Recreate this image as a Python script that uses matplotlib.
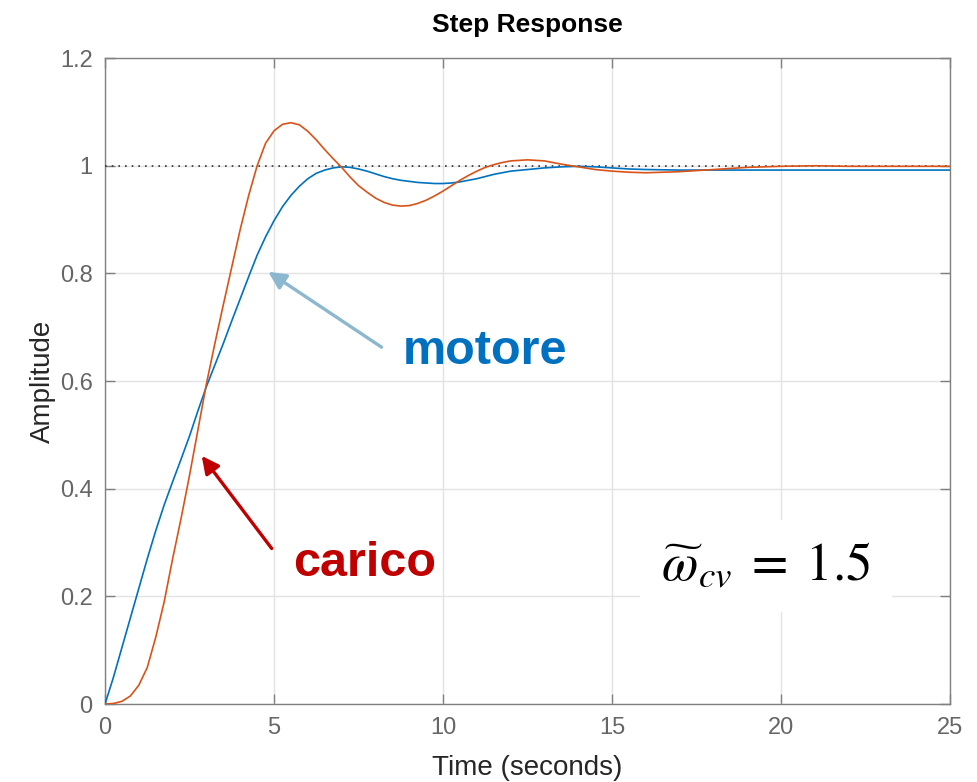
import numpy as np
import matplotlib
matplotlib.use('Agg')
import matplotlib.pyplot as plt

# Risposta al gradino: motore (blu) e carico (arancio)
tempo = [0, 0.25, 0.5, 0.75, 1.0, 1.25, 1.5, 1.75, 2.0, 2.25, 2.5, 2.75,
         3.0, 3.25, 3.5, 3.75, 4.0, 4.25, 4.5, 4.75, 5.0, 5.25, 5.5, 5.75,
         6.0, 6.25, 6.5, 6.75, 7.0, 7.25, 7.5, 7.75, 8.0, 8.25, 8.5, 8.75,
         9.0, 9.25, 9.5, 9.75, 10.0, 10.25, 10.5, 10.75, 11.0, 11.25, 11.5, 11.75,
         12.0, 12.5, 13.0, 13.5, 14.0, 14.5, 15.0, 15.5, 16.0,
         17, 18, 19, 20, 21, 22, 23, 24, 25]

motore = [0, 0.05, 0.105, 0.16, 0.215, 0.27, 0.322, 0.37, 0.413, 0.455, 0.498, 0.545,
          0.59, 0.63, 0.67, 0.712, 0.753, 0.794, 0.834, 0.868, 0.898, 0.924, 0.945, 0.962,
          0.976, 0.986, 0.992, 0.996, 0.998, 0.997, 0.994, 0.990, 0.985, 0.980, 0.976, 0.973,
          0.971, 0.969, 0.968, 0.967, 0.967, 0.968, 0.970, 0.973, 0.976, 0.980, 0.984, 0.987,
          0.990, 0.993, 0.996, 0.998, 0.999, 0.998, 0.996, 0.994, 0.993,
          0.992, 0.992, 0.992, 0.992, 0.992, 0.992, 0.992, 0.992, 0.992]

carico = [0, 0.001, 0.005, 0.015, 0.035, 0.068, 0.124, 0.19, 0.27, 0.345, 0.425, 0.51,
          0.595, 0.67, 0.742, 0.812, 0.882, 0.945, 1.0, 1.042, 1.065, 1.077, 1.080, 1.076,
          1.064, 1.048, 1.030, 1.013, 0.997, 0.979, 0.963, 0.951, 0.940, 0.932, 0.927, 0.925,
          0.926, 0.930, 0.936, 0.944, 0.953, 0.963, 0.973, 0.982, 0.990, 0.997, 1.002, 1.006,
          1.009, 1.011, 1.009, 1.003, 0.998, 0.993, 0.990, 0.988, 0.987,
          0.989, 0.993, 0.997, 0.999, 1.0, 0.999, 0.999, 0.999, 0.999]

regime = 1.0
x_ticks = [0, 5, 10, 15, 20, 25]
y_ticks = [0, 0.2, 0.4, 0.6, 0.8, 1, 1.2]

plt.rcParams['font.family'] = ['Liberation Sans', 'DejaVu Sans']
plt.rcParams['mathtext.fontset'] = 'stix'

fig = plt.figure(figsize=(9.77, 7.82), dpi=100)
ax = fig.add_axes([0.1075, 0.0997, 0.865, 0.826])

ax.plot(tempo, motore, color='#0072BD', lw=1.2, zorder=4)
ax.plot(tempo, carico, color='#D95319', lw=1.2, zorder=4)
ax.axhline(regime, color='#333333', ls=(0, (1, 3)), lw=1.2, zorder=3)

ax.set_xlim(0, 25)
ax.set_ylim(0, 1.2)
ax.set_xticks(x_ticks)
ax.set_yticks(y_ticks)
ax.set_yticklabels(['%g' % v for v in y_ticks])
ax.grid(True, color='#e3e3e3', lw=1)
ax.set_axisbelow(True)
ax.tick_params(direction='in', length=7, width=1, color='#808080',
               labelcolor='#666666', labelsize=17, top=True, right=True, pad=9)
for s in ax.spines.values():
    s.set_color('#808080')
    s.set_linewidth(1)

ax.set_title('Step Response', fontsize=19, fontweight='bold', pad=19)
ax.set_xlabel('Time (seconds)', fontsize=20, color='#262626', labelpad=12)
ax.set_ylabel('Amplitude', fontsize=20, color='#262626', labelpad=3)

# frecce e etichette
ax.annotate('', xy=(4.83, 0.803), xytext=(8.18, 0.663),
            arrowprops=dict(arrowstyle='-|>', color='#8BB8CF', lw=2.4,
                            mutation_scale=26, shrinkA=0, shrinkB=0), zorder=5)
ax.annotate('', xy=(2.86, 0.461), xytext=(4.93, 0.289),
            arrowprops=dict(arrowstyle='-|>', color='#C00000', lw=2.4,
                            mutation_scale=26, shrinkA=0, shrinkB=0), zorder=5)
ax.text(8.8, 0.632, 'motore', color='#0070C0', fontsize=35, fontweight='bold',
        ha='left', va='baseline')
ax.text(5.56, 0.237, 'carico', color='#C00000', fontsize=35, fontweight='bold',
        ha='left', va='baseline')
ax.text(19.55, 0.23, r'$\widetilde{\omega}_{cv}\;=\;1.5$', fontsize=38, color='black',
        ha='center', va='baseline',
        bbox=dict(boxstyle='square,pad=0.4', fc='white', ec='none'))

fig.savefig('out.png', dpi=100)
